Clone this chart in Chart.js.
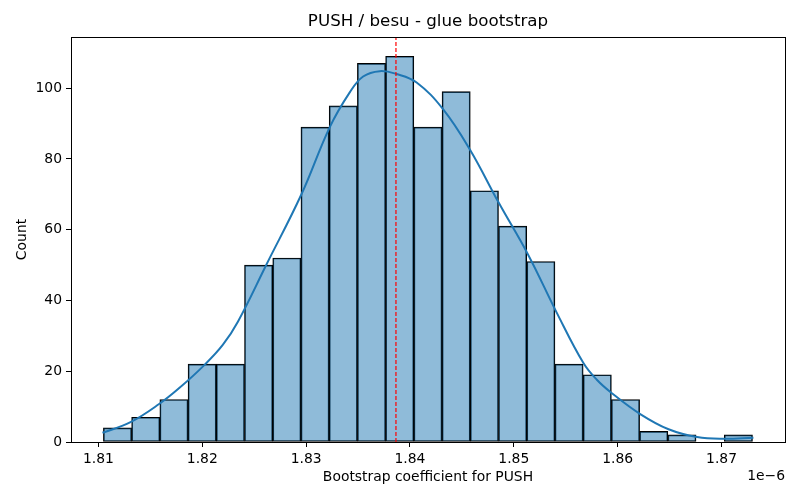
<!DOCTYPE html>
<html>
<head>
<meta charset="utf-8">
<script src="https://cdn.jsdelivr.net/npm/chart.js@4/dist/chart.umd.min.js"></script>
<style>
html,body{margin:0;padding:0;background:#fff;}
#wrap{width:800px;height:500px;}
</style>
</head>
<body>
<div id="wrap"><canvas id="c" width="800" height="500"></canvas></div>
<script>
// ---- data (units of 1e-6) ----
const titleText = "PUSH / besu - glue bootstrap";
const xLabel = "Bootstrap coefficient for PUSH";
const yLabel = "Count";
const offsetText = "1e\u22126";
const binStart = 1.81048;
const binWidth = 0.0027174;
const counts = [4, 7, 12, 22, 22, 50, 52, 89, 95, 107, 109, 89, 99, 71, 61, 51, 22, 19, 12, 3, 2, 0, 2];
const kdeX = [1.81039, 1.81309, 1.81588, 1.81781, 1.82022, 1.82199, 1.82343, 1.82617, 1.82955, 1.83228,
              1.83420, 1.83549, 1.83710, 1.83871, 1.84064, 1.84320, 1.84578, 1.84851, 1.85140, 1.85414,
              1.85670, 1.85799, 1.85944, 1.86217, 1.86490, 1.86764, 1.87017, 1.87307];
const kdeY = [2.6, 5.6, 10.8, 15.3, 21.8, 27.5, 34.0, 50.1, 70.0, 89.0,
              98.8, 103.3, 104.8, 104.0, 101.6, 94.0, 82.6, 67.8, 52.8, 36.5,
              22.3, 17.6, 13.8, 7.9, 3.6, 1.4, 0.9, 1.2];
const meanValue = 1.83865;
const xTicks = [1.81, 1.82, 1.83, 1.84, 1.85, 1.86, 1.87];
const yTicks = [0, 20, 40, 60, 80, 100];
const xMin = 1.80736, xMax = 1.87611;
const yMin = 0, yMax = 114.45;

const barData = counts.map((c, i) => ({x: binStart + binWidth * (i + 0.5), y: c}));
const kdeData = kdeX.map((x, i) => ({x: x, y: kdeY[i]}));
const meanData = [{x: meanValue, y: yMin}, {x: meanValue, y: yMax}];

const FONT = "'DejaVu Sans', sans-serif";

const framePlugin = {
  id: 'frame',
  afterDraw(chart) {
    const {ctx, chartArea: a} = chart;
    ctx.save();
    ctx.strokeStyle = '#000';
    ctx.lineWidth = 1;
    ctx.strokeRect(Math.round(a.left) + 0.5, Math.round(a.top) + 0.5, Math.round(a.right - a.left), Math.round(a.bottom - a.top));
    ctx.fillStyle = '#000';
    ctx.textBaseline = 'middle';
    ctx.textAlign = 'center';
    ctx.font = "16.7px " + FONT;
    ctx.fillText(titleText, (a.left + a.right) / 2, 22);
    ctx.font = "13.9px " + FONT;
    ctx.fillText(xLabel, (a.left + a.right) / 2, 477);
    ctx.textAlign = 'right';
    ctx.fillText(offsetText, a.right, 476);
    ctx.save();
    ctx.translate(22, (a.top + a.bottom) / 2);
    ctx.rotate(-Math.PI / 2);
    ctx.textAlign = 'center';
    ctx.fillText(yLabel, 0, 0);
    ctx.restore();
    ctx.restore();
  }
};

new Chart(document.getElementById('c'), {
  type: 'bar',
  data: {
    datasets: [
      {
        type: 'line', data: meanData, borderColor: '#ff0000', borderWidth: 1.2,
        borderDash: [4, 2], pointRadius: 0, fill: false, order: 0
      },
      {
        type: 'line', data: kdeData, borderColor: '#1f77b4', borderWidth: 2,
        pointRadius: 0, fill: false, tension: 0.4, order: 1
      },
      {
        type: 'bar', data: barData, backgroundColor: 'rgba(31,119,180,0.5)',
        borderColor: '#000', borderWidth: 1, borderSkipped: false,
        barPercentage: 1, categoryPercentage: 1, order: 2
      }
    ]
  },
  options: {
    responsive: false,
    animation: false,
    devicePixelRatio: 1,
    layout: {padding: {left: 0, right: 15, top: 37, bottom: 0}},
    plugins: {
      legend: {display: false},
      tooltip: {enabled: false},
      title: {display: false}
    },
    scales: {
      x: {
        type: 'linear', min: xMin, max: xMax, offset: false,
        grid: {display: true, drawOnChartArea: false, drawTicks: true, tickLength: 5, color: '#000', offset: false},
        border: {display: true, color: '#000', width: 1},
        ticks: {color: '#000', font: {family: FONT, size: 13.9}, padding: 4, maxRotation: 0, autoSkip: false,
          callback: v => v.toFixed(2)},
        afterBuildTicks: s => { s.ticks = xTicks.map(v => ({value: v})); },
        afterFit: s => { s.height = 58; }
      },
      y: {
        type: 'linear', min: yMin, max: yMax, beginAtZero: true,
        grid: {display: true, drawOnChartArea: false, drawTicks: true, tickLength: 5, color: '#000'},
        border: {display: true, color: '#000', width: 1},
        ticks: {color: '#000', font: {family: FONT, size: 13.9}, padding: 4, autoSkip: false,
          callback: v => String(v)},
        afterBuildTicks: s => { s.ticks = yTicks.map(v => ({value: v})); },
        afterFit: s => { s.width = 71; }
      }
    }
  },
  plugins: [framePlugin]
});
</script>
</body>
</html>
